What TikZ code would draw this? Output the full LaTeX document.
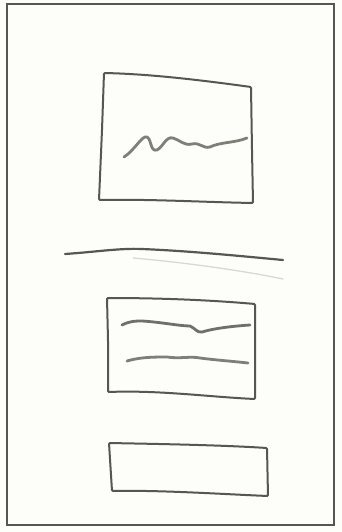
\documentclass[tikz,border=0pt]{standalone}
\definecolor{pencil}{RGB}{85,88,80}
\definecolor{softpencil}{RGB}{125,128,118}
\definecolor{faint}{RGB}{215,218,212}
\definecolor{paper}{RGB}{253,253,250}
\begin{document}
\begin{tikzpicture}[x=1pt,y=-1pt,
  frame/.style={draw=pencil,line width=1.2pt},
  sketchbox/.style={draw=pencil,line width=2pt,line join=round,rounded corners=1pt},
  scribble/.style={draw=softpencil,line width=2.8pt,line cap=round,line join=round},
  rule/.style={draw=pencil,line width=2.2pt,line cap=round},
  ghost/.style={draw=faint,line width=1.3pt,line cap=round}]
\fill[paper] (0,0) rectangle (342,532);
\useasboundingbox (0,0) rectangle (342,532);
% outer frame
\draw[frame] (7,4) rectangle (334,525);
% picture box
\draw[sketchbox] (104,73) .. controls (150,74) and (200,80) .. (251,87)
  -- (252,150) -- (253,203) .. controls (200,202) and (150,199) .. (99,200) -- (102,130) -- cycle;
\draw[scribble] (124,157) .. controls (135,150) and (142,135) .. (147,137)
  .. controls (152,140) and (150,152) .. (157,150)
  .. controls (163,147) and (166,136) .. (173,138)
  .. controls (180,140) and (184,146) .. (192,144)
  .. controls (200,142) and (203,149) .. (210,147)
  .. controls (220,142) and (235,143) .. (247,138);
% separator
\draw[rule] (65,254) .. controls (95,252) and (120,248) .. (142,249)
  .. controls (190,251) and (240,256) .. (283,260);
\draw[ghost] (133,258) .. controls (180,262) and (240,270) .. (283,279);
% text box
\draw[sketchbox] (107,298) .. controls (160,298) and (210,300) .. (255,304)
  -- (255,350) -- (255,399) .. controls (210,397) and (160,390) .. (108,392) -- (108,340) -- cycle;
\draw[scribble,draw=pencil!85!white] (122,325) .. controls (130,321) and (135,321) .. (142,321)
  .. controls (160,322) and (180,326) .. (190,326)
  .. controls (195,328) and (197,333) .. (202,332)
  .. controls (215,328) and (235,326) .. (250,325);
\draw[scribble] (127,361) .. controls (140,357) and (155,357) .. (167,357)
  .. controls (180,359) and (190,356) .. (200,358)
  .. controls (215,360) and (230,361) .. (248,363);
% button box
\draw[sketchbox] (109,443) .. controls (160,444) and (220,445) .. (267,448)
  -- (268,496) .. controls (220,494) and (160,490) .. (112,491) -- cycle;
\end{tikzpicture}
\end{document}
